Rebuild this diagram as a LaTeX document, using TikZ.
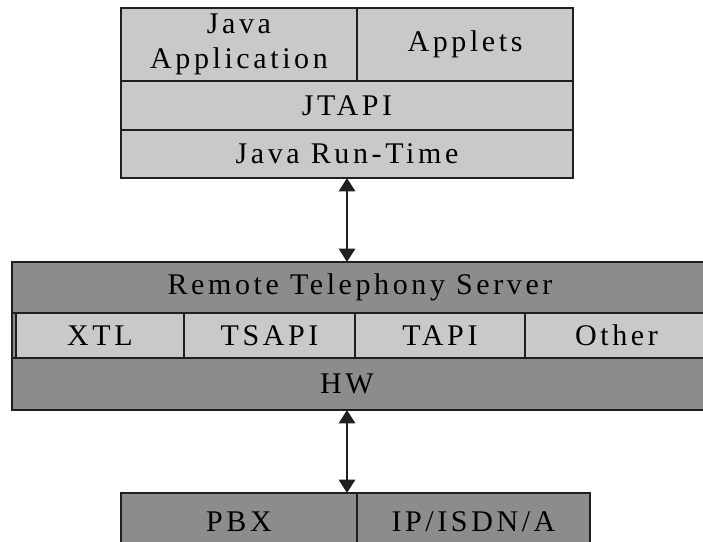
\documentclass[tikz,border=0pt]{standalone}
\usepackage{fontspec}
\setmainfont{Liberation Serif}[LetterSpace=12]
\usetikzlibrary{arrows.meta}
\definecolor{lightlayer}{gray}{0.79}
\definecolor{darklayer}{gray}{0.55}
\definecolor{edge}{gray}{0.12}
\tikzset{
	layer/.style={draw=edge, line width=1.4pt, inner sep=0pt, outer sep=0pt,
		align=center, font=\fontsize{22.5}{26}\selectfont},
	link/.style={draw=edge, line width=2.2pt,
		{Triangle[width=12pt,length=10pt]}-{Triangle[width=12pt,length=10pt]}}
}
\newcommand{\layer}[7] % name, left, top, right, bottom (px), fill, text
{
	\node[layer, fill=#6, minimum width={(#4-#2)*0.75pt}, minimum height={(#5-#3)*0.75pt}]
		(#1) at ({(#2+#4)/2},{(#3+#5)/2}) {#7};
}
\begin{document}
\begin{tikzpicture}[x=0.75pt,y=-0.75pt]
	% page: 703 x 542 px
	\useasboundingbox (0,0) rectangle (703,542);
	
	% client side
	\layer{app}{121}{8}{357}{81}{lightlayer}{Java\\Application};
	\layer{applets}{357}{8}{573}{81}{lightlayer}{Applets};
	\layer{jtapi}{121}{81}{573}{130}{lightlayer}{JTAPI};
	\layer{rt}{121}{130}{573}{178}{lightlayer}{Java Run-Time};
	
	% server
	\layer{srvframe}{12}{262}{708}{410}{darklayer}{};
	\layer{srv}{12}{262}{708}{313}{darklayer}{Remote Telephony Server};
	\layer{xtl}{16}{313}{184}{358}{lightlayer}{XTL};
	\layer{tsapi}{184}{313}{355}{358}{lightlayer}{TSAPI};
	\layer{tapi}{355}{313}{525}{358}{lightlayer}{TAPI};
	\layer{other}{525}{313}{708}{358}{lightlayer}{Other};
	\layer{hw}{12}{358}{708}{410}{darklayer}{};
	\node[font=\fontsize{22.5}{26}\selectfont] (hwtext) at (rt.south |- hw) {HW};
	
	% switch
	\layer{pbx}{121}{493}{357}{550}{darklayer}{PBX};
	\layer{ip}{357}{493}{590}{550}{darklayer}{IP/ISDN/A};
	
	\draw[link] (rt.south) -- (rt.south |- srv.north);
	\draw[link] (rt.south |- hw.south) -- (rt.south |- pbx.north);
\end{tikzpicture}
\end{document}
